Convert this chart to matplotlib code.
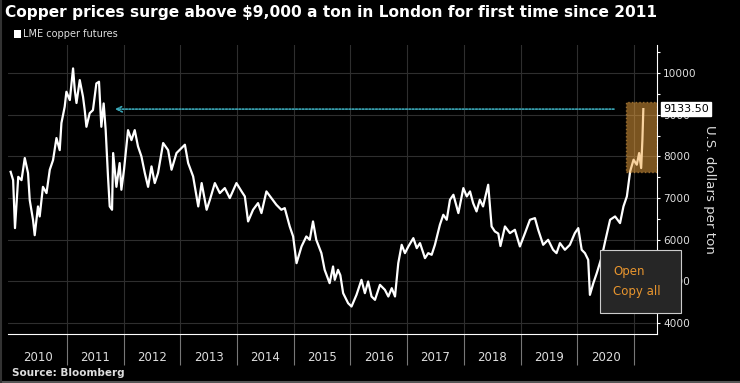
import numpy as np
import pandas as pd
import matplotlib
matplotlib.use("Agg")
import matplotlib.pyplot as plt
import matplotlib.dates as mdates
from matplotlib.patches import Rectangle
from matplotlib.transforms import blended_transform_factory

# LME copper futures, USD per ton
dates = ["2010-01-04", "2010-01-20", "2010-02-01", "2010-02-22", "2010-03-15", "2010-04-05",
         "2010-04-26", "2010-05-07", "2010-05-28", "2010-06-08", "2010-06-29", "2010-07-10",
         "2010-07-31", "2010-08-23", "2010-09-13", "2010-10-04", "2010-10-26", "2010-11-16",
         "2010-11-27", "2010-12-18", "2010-12-29", "2011-01-20", "2011-02-10", "2011-02-21",
         "2011-03-04", "2011-03-25", "2011-04-15", "2011-04-26", "2011-05-07", "2011-05-28",
         "2011-06-18", "2011-07-10", "2011-07-27", "2011-08-11", "2011-08-26", "2011-09-08",
         "2011-09-23", "2011-10-04", "2011-10-19", "2011-10-26", "2011-11-16", "2011-12-07",
         "2011-12-18", "2012-01-04", "2012-01-30", "2012-02-21", "2012-03-13", "2012-04-03",
         "2012-04-25", "2012-05-17", "2012-06-07", "2012-06-29", "2012-07-20", "2012-08-10",
         "2012-09-12", "2012-10-14", "2012-11-05", "2012-12-07", "2013-01-30", "2013-02-20",
         "2013-03-24", "2013-04-26", "2013-05-18", "2013-06-19", "2013-07-10", "2013-08-11",
         "2013-09-12", "2013-10-14", "2013-11-15", "2013-12-28", "2014-01-30", "2014-02-20",
         "2014-03-13", "2014-04-14", "2014-05-16", "2014-06-07", "2014-07-09", "2014-08-10",
         "2014-09-11", "2014-10-13", "2014-11-04", "2014-12-06", "2014-12-28", "2015-01-19",
         "2015-02-20", "2015-03-23", "2015-04-14", "2015-05-05", "2015-05-26", "2015-06-28",
         "2015-07-19", "2015-08-20", "2015-09-11", "2015-09-22", "2015-10-13", "2015-10-28",
         "2015-11-15", "2015-12-17", "2016-01-08", "2016-02-09", "2016-03-12", "2016-04-03",
         "2016-04-24", "2016-05-16", "2016-06-07", "2016-07-09", "2016-08-10", "2016-09-01",
         "2016-09-23", "2016-10-14", "2016-11-04", "2016-11-26", "2016-12-17", "2017-01-08",
         "2017-02-09", "2017-03-03", "2017-03-24", "2017-04-25", "2017-05-16", "2017-06-07",
         "2017-06-28", "2017-07-30", "2017-08-21", "2017-09-12", "2017-10-03", "2017-10-25",
         "2017-11-26", "2017-12-28", "2018-01-19", "2018-02-09", "2018-03-01", "2018-03-23",
         "2018-04-13", "2018-05-04", "2018-06-06", "2018-06-28", "2018-07-19", "2018-08-10",
         "2018-08-24", "2018-09-22", "2018-10-24", "2018-11-25", "2018-12-27", "2019-01-29",
         "2019-03-02", "2019-04-03", "2019-04-24", "2019-05-26", "2019-06-27", "2019-07-29",
         "2019-08-20", "2019-09-11", "2019-10-13", "2019-11-14", "2019-12-16", "2020-01-07",
         "2020-01-29", "2020-02-19", "2020-03-11", "2020-03-22", "2020-04-13", "2020-05-05",
         "2020-06-07", "2020-06-28", "2020-07-30", "2020-08-31", "2020-10-02", "2020-10-24",
         "2020-11-15", "2020-12-06", "2020-12-28", "2021-01-18", "2021-02-02", "2021-02-15",
         "2021-02-23", "2021-03-01"]
prices = [7630, 7430, 6280, 7510, 7430, 7960,
          7600, 6950, 6480, 6110, 6800, 6560,
          7270, 7120, 7680, 7910, 8440, 8150,
          8800, 9190, 9550, 9350, 10110, 9590,
          9280, 9830, 9430, 9110, 8710, 9035,
          9110, 9750, 9790, 8710, 9270, 8630,
          7510, 6800, 6720, 8080, 7270, 7840,
          7200, 7680, 8630, 8390, 8630, 8240,
          8000, 7600, 7270, 7760, 7360, 7600,
          8320, 8150, 7680, 8080, 8280, 7840,
          7520, 6800, 7360, 6720, 6960, 7360,
          7120, 7240, 7000, 7360, 7160, 7040,
          6440, 6720, 6880, 6640, 7160, 7000,
          6840, 6720, 6760, 6320, 6080, 5440,
          5840, 6080, 6000, 6440, 6000, 5680,
          5280, 4960, 5360, 5040, 5280, 5150,
          4720, 4480, 4400, 4680, 5040, 4720,
          5000, 4640, 4560, 4920, 4800, 4640,
          4840, 4640, 5440, 5880, 5680, 5840,
          6040, 5800, 5920, 5560, 5680, 5640,
          5880, 6360, 6600, 6480, 6960, 7080,
          6640, 7240, 7040, 7160, 6880, 6680,
          6960, 6800, 7320, 6320, 6200, 6150,
          5850, 6320, 6160, 6240, 5840, 6160,
          6480, 6520, 6240, 5880, 6000, 5760,
          5680, 5920, 5760, 5880, 6160, 6280,
          5760, 5680, 5520, 4680, 4960, 5200,
          5600, 5960, 6480, 6560, 6400, 6800,
          7040, 7640, 7920, 7800, 8080, 7720,
          8400, 9133.5]

years = list(range(2010, 2021))
y_ticks = [4000, 5000, 6000, 7000, 8000, 9000, 10000]
last_price = 9133.50

x = pd.to_datetime(dates)

fig = plt.figure(figsize=(7.4, 3.83), dpi=100, facecolor="black")
ax = fig.add_axes([8 / 740, 49 / 383, 649 / 740, 289 / 383], facecolor="black")

ax.plot(x, prices, color="white", lw=1.6, zorder=3)

ax.set_xlim(pd.Timestamp("2009-12-18"), pd.Timestamp("2021-05-28"))
ax.set_ylim(3741, 10671)

# axes styling
for s in ["top", "left"]:
    ax.spines[s].set_visible(False)
ax.spines["right"].set_color("white")
ax.spines["bottom"].set_color("white")
ax.spines["right"].set_linewidth(0.8)
ax.spines["bottom"].set_linewidth(0.8)

ax.yaxis.tick_right()
ax.yaxis.set_label_position("right")
ax.set_yticks(y_ticks)
ax.set_yticks(np.arange(4000, 10501, 500), minor=True)
ax.set_yticklabels([str(v) for v in y_ticks])
ax.tick_params(axis="y", which="both", colors="white", labelsize=7.6, length=2.5,
               width=0.8, pad=2, labelcolor="#dddddd")
ax.set_ylabel("U.S. dollars per ton", color="#dddddd", fontsize=9.6, rotation=270,
              labelpad=14)

bounds = [pd.Timestamp(f"{y + 1}-01-01") for y in years]
mids = [pd.Timestamp(f"{y}-07-02") for y in years]
ax.set_xticks(bounds)
ax.set_xticklabels([""] * len(bounds))
ax.set_xticks(mids, minor=True)
ax.set_xticklabels([str(y) for y in years], minor=True)
ax.tick_params(axis="x", which="major", length=22, width=0.8, color="#777777")
ax.tick_params(axis="x", which="minor", length=0, labelsize=8.5, labelcolor="#dddddd", pad=12)

ax.grid(True, which="major", color="#2e2e2e", lw=0.8)

# dotted arrow back to the 2011 level
ax.annotate("", xy=(pd.Timestamp("2011-11-06"), last_price),
            xytext=(pd.Timestamp("2020-08-24"), last_price),
            arrowprops=dict(arrowstyle="->", color="#3aa8b8", lw=1.2, linestyle=(0, (1, 1)),
                            shrinkA=0, shrinkB=0), zorder=4)

# highlight box around recent surge
x0 = mdates.date2num(pd.Timestamp("2020-11-10"))
x1 = ax.get_xlim()[1]
ax.add_patch(Rectangle((x0, 7625), x1 - x0, 9315 - 7625, facecolor="#f4a840", alpha=0.5,
                       edgecolor="#f4b050", lw=1, linestyle=":", zorder=5))

# last value tag
trans = blended_transform_factory(ax.transAxes, ax.transData)
ax.text(1.009, last_price, f"{last_price:.2f}", transform=trans, fontsize=8, color="black",
        va="center", ha="left", clip_on=False, zorder=10,
        bbox=dict(boxstyle="square,pad=0.18", facecolor="white", edgecolor="white"))

# texts
fig.text(5 / 740, 1 - 12 / 383, "Copper prices surge above $9,000 a ton in London for first time since 2011",
         color="white", fontsize=11.1, fontweight="bold", va="center", ha="left")
fig.patches.append(Rectangle((14 / 740, 1 - 38 / 383), 7 / 740, 8 / 383, transform=fig.transFigure,
                             facecolor="white", edgecolor="none"))
fig.text(23 / 740, 1 - 34 / 383, "LME copper futures", color="#dddddd", fontsize=7, va="center",
         ha="left")
fig.text(12 / 740, 1 - 373 / 383, "Source: Bloomberg", color="#dddddd", fontsize=7.5,
         fontweight="bold", va="center", ha="left")

# context menu overlay
fig.patches.append(Rectangle((600 / 740, 1 - 313 / 383), 81 / 740, 63 / 383, transform=fig.transFigure,
                             facecolor="#262626", edgecolor="#cccccc", lw=0.8, zorder=20))
fig.text(613 / 740, 1 - 272 / 383, "Open", color="#e8952e", fontsize=8.5, va="center", ha="left",
         zorder=21)
fig.text(613 / 740, 1 - 291 / 383, "Copy all", color="#e8952e", fontsize=8.5, va="center", ha="left",
         zorder=21)

# frame edges
fig.add_artist(plt.Line2D([0, 1], [1.5 / 383, 1.5 / 383], transform=fig.transFigure, color="#555555", lw=1.5))
fig.add_artist(plt.Line2D([0.7 / 740, 0.7 / 740], [0, 1], transform=fig.transFigure, color="#333333", lw=1.5))

fig.savefig("out.png", dpi=100, facecolor="black")
